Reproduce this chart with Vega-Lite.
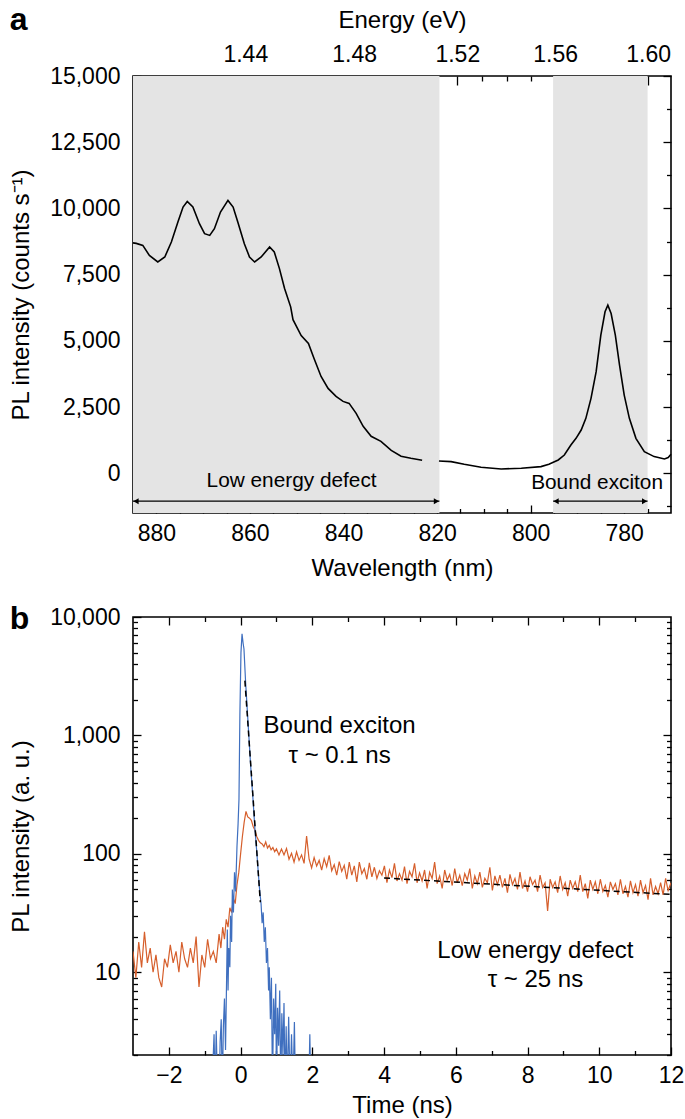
{
  "$schema": "https://vega.github.io/schema/vega-lite/v6.json",
  "background": "white",
  "padding": {"left": 8, "top": 3, "right": 2, "bottom": 4},
  "config": {
    "font": "Liberation Sans",
    "view": {"stroke": "black", "strokeWidth": 1.6},
    "axis": {"domain": false, "grid": false, "tickColor": "black", "tickWidth": 1.3, "labelColor": "black", "labelFontSize": 23, "labelFont": "Liberation Sans", "titleFont": "Liberation Sans", "titleFontSize": 24, "titleFontWeight": "normal", "titleColor": "black", "labelFlush": false, "labelOverlap": false},
    "text": {"font": "Liberation Sans", "color": "black"},
    "concat": {"spacing": 21}
  },
  "datasets": {
    "spectrum": [
      {"wl": 885, "I": 8700, "seg": 1}, {"wl": 884.3, "I": 8680, "seg": 1}, {"wl": 882.9, "I": 8605, "seg": 1}, {"wl": 881.5, "I": 8228, "seg": 1}, {"wl": 879.7, "I": 7979, "seg": 1}, {"wl": 878.2, "I": 8167, "seg": 1}, {"wl": 876.8, "I": 8733, "seg": 1}, {"wl": 875.4, "I": 9487, "seg": 1}, {"wl": 874.3, "I": 10052, "seg": 1}, {"wl": 873.4, "I": 10264, "seg": 1}, {"wl": 872.2, "I": 10052, "seg": 1}, {"wl": 870.8, "I": 9422, "seg": 1}, {"wl": 869.7, "I": 9046, "seg": 1}, {"wl": 868.6, "I": 8982, "seg": 1}, {"wl": 867.6, "I": 9234, "seg": 1}, {"wl": 866.3, "I": 9864, "seg": 1}, {"wl": 864.7, "I": 10302, "seg": 1}, {"wl": 863.6, "I": 10052, "seg": 1}, {"wl": 862.6, "I": 9487, "seg": 1}, {"wl": 861.2, "I": 8669, "seg": 1}, {"wl": 860.1, "I": 8167, "seg": 1}, {"wl": 859.0, "I": 7979, "seg": 1}, {"wl": 857.6, "I": 8167, "seg": 1}, {"wl": 855.8, "I": 8544, "seg": 1}, {"wl": 854.8, "I": 8356, "seg": 1}, {"wl": 853.7, "I": 7727, "seg": 1}, {"wl": 852.6, "I": 6974, "seg": 1}, {"wl": 851.3, "I": 6283, "seg": 1}, {"wl": 850.8, "I": 5800, "seg": 1}, {"wl": 849.05, "I": 5201, "seg": 1}, {"wl": 847.5, "I": 4900, "seg": 1}, {"wl": 846.3, "I": 4334, "seg": 1}, {"wl": 844.8, "I": 3656, "seg": 1}, {"wl": 843.3, "I": 3204, "seg": 1}, {"wl": 841.6, "I": 2902, "seg": 1}, {"wl": 840.1, "I": 2714, "seg": 1}, {"wl": 838.8, "I": 2638, "seg": 1}, {"wl": 837.3, "I": 2262, "seg": 1}, {"wl": 835.8, "I": 1772, "seg": 1}, {"wl": 834.1, "I": 1395, "seg": 1}, {"wl": 832.0, "I": 1206, "seg": 1}, {"wl": 829.8, "I": 867, "seg": 1}, {"wl": 827.7, "I": 641, "seg": 1}, {"wl": 825.6, "I": 565, "seg": 1}, {"wl": 823.2, "I": 490, "seg": 1},
      {"wl": 819.6, "I": 464, "seg": 2}, {"wl": 817.0, "I": 441, "seg": 2}, {"wl": 814.2, "I": 339, "seg": 2}, {"wl": 810.6, "I": 226, "seg": 2}, {"wl": 806.3, "I": 163, "seg": 2}, {"wl": 802.0, "I": 188, "seg": 2}, {"wl": 797.8, "I": 251, "seg": 2}, {"wl": 796.1, "I": 339, "seg": 2}, {"wl": 794.1, "I": 502, "seg": 2}, {"wl": 792.8, "I": 690, "seg": 2}, {"wl": 791.4, "I": 1067, "seg": 2}, {"wl": 790.3, "I": 1320, "seg": 2}, {"wl": 789.2, "I": 1633, "seg": 2}, {"wl": 788.2, "I": 2074, "seg": 2}, {"wl": 787.1, "I": 2828, "seg": 2}, {"wl": 786.0, "I": 3835, "seg": 2}, {"wl": 785.0, "I": 5215, "seg": 2}, {"wl": 784.1, "I": 6097, "seg": 2}, {"wl": 783.5, "I": 6348, "seg": 2}, {"wl": 782.8, "I": 6033, "seg": 2}, {"wl": 781.9, "I": 5215, "seg": 2}, {"wl": 781.0, "I": 4084, "seg": 2}, {"wl": 780.0, "I": 2953, "seg": 2}, {"wl": 778.9, "I": 2074, "seg": 2}, {"wl": 777.5, "I": 1320, "seg": 2}, {"wl": 775.7, "I": 818, "seg": 2}, {"wl": 773.6, "I": 629, "seg": 2}, {"wl": 771.4, "I": 540, "seg": 2}, {"wl": 770.6, "I": 591, "seg": 2}, {"wl": 770.0, "I": 716, "seg": 2}
    ],
    "bands": [{"from": 885, "to": 819.5}, {"from": 795.2, "to": 775.0}],
    "arrows": [{"name": "Low energy defect", "from": 885, "to": 819.5}, {"name": "Bound exciton", "from": 795.2, "to": 775.0}],
    "orange": [
      {"t": -3.0, "v": 15}, {"t": -2.92, "v": 9}, {"t": -2.84, "v": 18}, {"t": -2.76, "v": 11}, {"t": -2.68, "v": 22}, {"t": -2.6, "v": 12}, {"t": -2.52, "v": 16}, {"t": -2.44, "v": 10}, {"t": -2.36, "v": 14}, {"t": -2.28, "v": 9}, {"t": -2.2, "v": 7.5}, {"t": -2.12, "v": 13}, {"t": -2.04, "v": 11}, {"t": -1.96, "v": 17}, {"t": -1.88, "v": 12}, {"t": -1.8, "v": 15}, {"t": -1.72, "v": 10}, {"t": -1.64, "v": 18}, {"t": -1.56, "v": 13}, {"t": -1.48, "v": 11}, {"t": -1.4, "v": 16}, {"t": -1.32, "v": 12}, {"t": -1.24, "v": 20}, {"t": -1.16, "v": 7.5}, {"t": -1.08, "v": 14}, {"t": -1.0, "v": 11}, {"t": -0.92, "v": 19}, {"t": -0.84, "v": 13}, {"t": -0.76, "v": 15}, {"t": -0.68, "v": 12}, {"t": -0.6, "v": 21},
      {"t": -0.55, "v": 16}, {"t": -0.5, "v": 24}, {"t": -0.45, "v": 19}, {"t": -0.4, "v": 28}, {"t": -0.35, "v": 24}, {"t": -0.3, "v": 35}, {"t": -0.25, "v": 32}, {"t": -0.2, "v": 42}, {"t": -0.15, "v": 38}, {"t": -0.1, "v": 55}, {"t": -0.05, "v": 70}, {"t": 0.0, "v": 100}, {"t": 0.05, "v": 140}, {"t": 0.1, "v": 185}, {"t": 0.15, "v": 228}, {"t": 0.2, "v": 205}, {"t": 0.25, "v": 200}, {"t": 0.3, "v": 192}, {"t": 0.35, "v": 170}, {"t": 0.4, "v": 158}, {"t": 0.45, "v": 140}, {"t": 0.5, "v": 130}, {"t": 0.55, "v": 124}, {"t": 0.6, "v": 121}, {"t": 0.65, "v": 115}, {"t": 0.7, "v": 126}, {"t": 0.75, "v": 112}, {"t": 0.8, "v": 118}, {"t": 0.85, "v": 108}, {"t": 0.9, "v": 113}, {"t": 0.95, "v": 104}, {"t": 1.0, "v": 110},
      {"t": 1.07, "v": 98}, {"t": 1.14, "v": 110}, {"t": 1.21, "v": 98}, {"t": 1.28, "v": 111}, {"t": 1.35, "v": 90}, {"t": 1.42, "v": 101}, {"t": 1.49, "v": 85}, {"t": 1.56, "v": 104}, {"t": 1.63, "v": 88}, {"t": 1.7, "v": 98}, {"t": 1.77, "v": 83}, {"t": 1.84, "v": 141}, {"t": 1.91, "v": 90}, {"t": 1.98, "v": 76}, {"t": 2.05, "v": 93}, {"t": 2.12, "v": 79}, {"t": 2.19, "v": 88}, {"t": 2.26, "v": 73}, {"t": 2.33, "v": 91}, {"t": 2.4, "v": 78}, {"t": 2.47, "v": 97}, {"t": 2.54, "v": 72}, {"t": 2.61, "v": 81}, {"t": 2.68, "v": 66}, {"t": 2.75, "v": 86}, {"t": 2.82, "v": 71}, {"t": 2.89, "v": 80}, {"t": 2.96, "v": 61}, {"t": 3.03, "v": 85}, {"t": 3.1, "v": 66}, {"t": 3.17, "v": 79}, {"t": 3.24, "v": 58}, {"t": 3.31, "v": 85}, {"t": 3.38, "v": 68}, {"t": 3.45, "v": 75}, {"t": 3.52, "v": 61}, {"t": 3.59, "v": 84}, {"t": 3.66, "v": 64}, {"t": 3.73, "v": 77}, {"t": 3.8, "v": 62}, {"t": 3.87, "v": 72}, {"t": 3.94, "v": 66}, {"t": 4.01, "v": 79}, {"t": 4.08, "v": 57}, {"t": 4.15, "v": 73}, {"t": 4.22, "v": 63}, {"t": 4.29, "v": 83}, {"t": 4.36, "v": 59}, {"t": 4.43, "v": 68}, {"t": 4.5, "v": 60}, {"t": 4.57, "v": 78}, {"t": 4.64, "v": 56}, {"t": 4.71, "v": 71}, {"t": 4.78, "v": 64}, {"t": 4.85, "v": 83}, {"t": 4.92, "v": 57}, {"t": 4.99, "v": 69}, {"t": 5.06, "v": 59}, {"t": 5.13, "v": 73}, {"t": 5.2, "v": 51}, {"t": 5.27, "v": 70}, {"t": 5.34, "v": 62}, {"t": 5.41, "v": 85}, {"t": 5.48, "v": 56}, {"t": 5.55, "v": 65}, {"t": 5.62, "v": 51}, {"t": 5.69, "v": 73}, {"t": 5.76, "v": 60}, {"t": 5.83, "v": 67}, {"t": 5.9, "v": 54}, {"t": 5.97, "v": 75}, {"t": 6.04, "v": 57}, {"t": 6.11, "v": 66}, {"t": 6.18, "v": 54}, {"t": 6.25, "v": 68}, {"t": 6.32, "v": 60}, {"t": 6.39, "v": 75}, {"t": 6.46, "v": 51}, {"t": 6.53, "v": 65}, {"t": 6.6, "v": 56}, {"t": 6.67, "v": 70}, {"t": 6.74, "v": 52}, {"t": 6.81, "v": 62}, {"t": 6.88, "v": 57}, {"t": 6.95, "v": 77}, {"t": 7.02, "v": 49}, {"t": 7.09, "v": 65}, {"t": 7.16, "v": 55}, {"t": 7.23, "v": 66}, {"t": 7.3, "v": 52}, {"t": 7.37, "v": 62}, {"t": 7.44, "v": 47}, {"t": 7.51, "v": 67}, {"t": 7.58, "v": 55}, {"t": 7.65, "v": 62}, {"t": 7.72, "v": 50}, {"t": 7.79, "v": 70}, {"t": 7.86, "v": 51}, {"t": 7.93, "v": 59}, {"t": 8.0, "v": 48}, {"t": 8.07, "v": 64}, {"t": 8.14, "v": 55}, {"t": 8.21, "v": 60}, {"t": 8.28, "v": 48}, {"t": 8.35, "v": 66}, {"t": 8.42, "v": 52}, {"t": 8.49, "v": 57}, {"t": 8.56, "v": 33}, {"t": 8.63, "v": 61}, {"t": 8.7, "v": 52}, {"t": 8.77, "v": 58}, {"t": 8.84, "v": 47}, {"t": 8.91, "v": 65}, {"t": 8.98, "v": 50}, {"t": 9.05, "v": 57}, {"t": 9.12, "v": 44}, {"t": 9.19, "v": 60}, {"t": 9.26, "v": 51}, {"t": 9.33, "v": 58}, {"t": 9.4, "v": 48}, {"t": 9.47, "v": 66}, {"t": 9.54, "v": 48}, {"t": 9.61, "v": 56}, {"t": 9.68, "v": 42}, {"t": 9.75, "v": 60}, {"t": 9.82, "v": 50}, {"t": 9.89, "v": 58}, {"t": 9.96, "v": 46}, {"t": 10.03, "v": 61}, {"t": 10.1, "v": 48}, {"t": 10.17, "v": 54}, {"t": 10.24, "v": 43}, {"t": 10.31, "v": 58}, {"t": 10.38, "v": 50}, {"t": 10.45, "v": 56}, {"t": 10.52, "v": 45}, {"t": 10.59, "v": 61}, {"t": 10.66, "v": 46}, {"t": 10.73, "v": 53}, {"t": 10.8, "v": 43}, {"t": 10.87, "v": 59}, {"t": 10.94, "v": 47}, {"t": 11.01, "v": 55}, {"t": 11.08, "v": 44}, {"t": 11.15, "v": 60}, {"t": 11.22, "v": 47}, {"t": 11.29, "v": 54}, {"t": 11.36, "v": 41}, {"t": 11.43, "v": 62}, {"t": 11.5, "v": 45}, {"t": 11.57, "v": 53}, {"t": 11.64, "v": 46}, {"t": 11.71, "v": 57}, {"t": 11.78, "v": 45}, {"t": 11.85, "v": 62}, {"t": 11.92, "v": 49}, {"t": 12.0, "v": 57}
    ],
    "blue": [
      {"t": -0.8, "v": 1}, {"t": -0.74, "v": 3}, {"t": -0.71, "v": 1}, {"t": -0.68, "v": 3.2}, {"t": -0.64, "v": 1}, {"t": -0.6, "v": 1}, {"t": -0.57, "v": 2.6}, {"t": -0.54, "v": 4}, {"t": -0.51, "v": 1}, {"t": -0.48, "v": 3.5}, {"t": -0.45, "v": 6}, {"t": -0.42, "v": 2.2}, {"t": -0.39, "v": 9}, {"t": -0.37, "v": 23}, {"t": -0.35, "v": 7}, {"t": -0.33, "v": 16}, {"t": -0.3, "v": 11}, {"t": -0.28, "v": 30}, {"t": -0.25, "v": 18}, {"t": -0.23, "v": 50}, {"t": -0.2, "v": 32}, {"t": -0.17, "v": 70}, {"t": -0.14, "v": 48}, {"t": -0.1, "v": 117}, {"t": -0.07, "v": 180}, {"t": -0.045, "v": 290}, {"t": -0.02, "v": 1500}, {"t": 0.01, "v": 5000}, {"t": 0.04, "v": 7200}, {"t": 0.07, "v": 6000}, {"t": 0.094, "v": 5370}, {"t": 0.14, "v": 2800}, {"t": 0.2, "v": 1400}, {"t": 0.28, "v": 555}, {"t": 0.345, "v": 290}, {"t": 0.4, "v": 160}, {"t": 0.45, "v": 105}, {"t": 0.5, "v": 65}, {"t": 0.53, "v": 50}, {"t": 0.57, "v": 38}, {"t": 0.6, "v": 26}, {"t": 0.63, "v": 32}, {"t": 0.66, "v": 18}, {"t": 0.69, "v": 24}, {"t": 0.72, "v": 12}, {"t": 0.75, "v": 16}, {"t": 0.78, "v": 7}, {"t": 0.8, "v": 11}, {"t": 0.83, "v": 4}, {"t": 0.86, "v": 9}, {"t": 0.89, "v": 1}, {"t": 0.92, "v": 6}, {"t": 0.95, "v": 3}, {"t": 0.98, "v": 8}, {"t": 1.0, "v": 1}, {"t": 1.03, "v": 5}, {"t": 1.06, "v": 2.4}, {"t": 1.09, "v": 7}, {"t": 1.12, "v": 1}, {"t": 1.15, "v": 4.5}, {"t": 1.18, "v": 2}, {"t": 1.21, "v": 5.5}, {"t": 1.24, "v": 1}, {"t": 1.27, "v": 3.5}, {"t": 1.3, "v": 1}, {"t": 1.34, "v": 4.2}, {"t": 1.38, "v": 1}, {"t": 1.42, "v": 3}, {"t": 1.46, "v": 1}, {"t": 1.5, "v": 3.8}, {"t": 1.53, "v": 1}, {"t": 1.9, "v": 1}, {"t": 1.93, "v": 3}, {"t": 1.96, "v": 1}, {"t": 2.1, "v": 1}
    ],
    "fits": [{"t": 0.12, "v": 2900, "fit": "bound"}, {"t": 0.55, "v": 39, "fit": "bound"}, {"t": 4, "v": 62.5, "fit": "defect"}, {"t": 12, "v": 45.4, "fit": "defect"}],
    "notes_a": [{"label": "Low energy defect"}, {"label": "Bound exciton"}],
    "notes_b": [{"label": "Bound exciton\nτ ~ 0.1 ns"}, {"label": "Low energy defect\nτ ~ 25 ns"}]
  },
  "vconcat": [
    {
      "width": 538,
      "height": 437,
      "title": {"text": "a", "anchor": "start", "frame": "bounds", "fontSize": 32, "fontWeight": "bold", "font": "Liberation Sans", "color": "black", "offset": 0, "dy": 29},
      "layer": [
        {
          "data": {"name": "bands"},
          "mark": {"type": "rect", "color": "#e4e4e4"},
          "encoding": {
            "x": {"field": "from", "type": "quantitative", "scale": {"domain": [770, 885], "reverse": true, "nice": false, "zero": false}, "axis": null},
            "x2": {"field": "to"}
          }
        },
        {
          "data": {"name": "spectrum"},
          "mark": {"type": "line", "color": "black", "strokeWidth": 1.6},
          "encoding": {
            "x": {"field": "wl", "type": "quantitative", "scale": {"domain": [770, 885], "reverse": true, "nice": false, "zero": false},
              "axis": {"orient": "bottom", "values": [880, 860, 840, 820, 800, 780], "offset": -8, "tickSize": 8, "labelPadding": 9, "title": "Wavelength (nm)", "titlePadding": 11}},
            "y": {"field": "I", "type": "quantitative", "scale": {"domain": [-1500, 15000], "nice": false, "zero": false},
              "axis": {"orient": "left", "values": [0, 2500, 5000, 7500, 10000, 12500, 15000], "labelExpr": "format(datum.value, ',')", "offset": -8, "tickSize": 8, "labelPadding": 13, "title": "PL intensity (counts s⁻¹)", "titlePadding": 16}},
            "detail": {"field": "seg", "type": "nominal"}
          }
        },
        {
          "data": {"name": "arrows"},
          "mark": {"type": "rule", "color": "black", "strokeWidth": 1.2},
          "encoding": {
            "x": {"field": "from", "type": "quantitative", "scale": {"domain": [770, 885], "reverse": true, "nice": false, "zero": false},
              "axis": {"orient": "bottom", "values": [875, 870, 865, 855, 850, 845, 835, 830, 825, 815, 810, 805, 795, 790, 785, 775], "offset": -4.5, "tickSize": 4.5, "labels": false, "title": null}},
            "x2": {"field": "to"},
            "y": {"datum": -1055, "type": "quantitative", "scale": {"domain": [-1500, 15000], "nice": false, "zero": false},
              "axis": {"orient": "left", "values": [-1250, 1250, 3750, 6250, 8750, 11250, 13750], "offset": -4.5, "tickSize": 4.5, "labels": false, "title": null}}
          }
        },
        {
          "data": {"name": "arrows"},
          "mark": {"type": "point", "shape": "triangle-left", "filled": true, "color": "black", "size": 36, "opacity": 1, "xOffset": 3},
          "encoding": {
            "x": {"field": "from", "type": "quantitative", "scale": {"domain": [770, 885], "reverse": true, "nice": false, "zero": false},
              "axis": {"orient": "top", "values": [861.0, 837.73, 815.68, 794.77, 774.9], "labelExpr": "format(1239.84 / datum.value, '.2f')", "offset": -9, "tickSize": 9, "labelPadding": 10, "title": "Energy (eV)", "titlePadding": 11}},
            "y": {"datum": -1055, "type": "quantitative", "scale": {"domain": [-1500, 15000], "nice": false, "zero": false},
              "axis": {"orient": "right", "values": [0, 2500, 5000, 7500, 10000, 12500, 15000], "offset": -8, "tickSize": 8, "labels": false, "title": null}}
          }
        },
        {
          "data": {"name": "arrows"},
          "mark": {"type": "point", "shape": "triangle-right", "filled": true, "color": "black", "size": 36, "opacity": 1, "xOffset": -3},
          "encoding": {
            "x": {"field": "to", "type": "quantitative", "scale": {"domain": [770, 885], "reverse": true, "nice": false, "zero": false},
              "axis": {"orient": "top", "values": [879.32, 873.13, 867.02, 855.06, 849.21, 843.44, 832.11, 826.56, 821.09, 810.35, 805.09, 799.9, 789.71, 784.71, 779.77], "offset": -5, "tickSize": 5, "labels": false, "title": null}},
            "y": {"datum": -1055, "type": "quantitative", "scale": {"domain": [-1500, 15000], "nice": false, "zero": false},
              "axis": {"orient": "right", "values": [-1250, 1250, 3750, 6250, 8750, 11250, 13750], "offset": -4.5, "tickSize": 4.5, "labels": false, "title": null}}
          }
        },
        {
          "data": {"name": "notes_a"},
          "transform": [{"filter": "datum.label == 'Low energy defect'"}],
          "mark": {"type": "text", "fontSize": 20.8, "align": "center", "baseline": "middle"},
          "encoding": {
            "x": {"datum": 851.1, "type": "quantitative", "scale": {"domain": [770, 885], "reverse": true, "nice": false, "zero": false}, "axis": null},
            "y": {"datum": -301, "type": "quantitative", "scale": {"domain": [-1500, 15000], "nice": false, "zero": false}, "axis": null},
            "text": {"field": "label", "type": "nominal"}
          }
        },
        {
          "data": {"name": "notes_a"},
          "transform": [{"filter": "datum.label == 'Bound exciton'"}],
          "mark": {"type": "text", "fontSize": 20.8, "align": "center", "baseline": "middle"},
          "encoding": {
            "x": {"datum": 785.8, "type": "quantitative", "scale": {"domain": [770, 885], "reverse": true, "nice": false, "zero": false}, "axis": null},
            "y": {"datum": -377, "type": "quantitative", "scale": {"domain": [-1500, 15000], "nice": false, "zero": false}, "axis": null},
            "text": {"field": "label", "type": "nominal"}
          }
        }
      ],
      "resolve": {"axis": {"x": "independent", "y": "independent"}}
    },
    {
      "width": 538,
      "height": 438,
      "title": {"text": "b", "anchor": "start", "frame": "bounds", "fontSize": 32, "fontWeight": "bold", "font": "Liberation Sans", "color": "black", "offset": 0, "dy": 30},
      "layer": [
        {
          "data": {"name": "orange"},
          "mark": {"type": "line", "color": "#d65f2c", "strokeWidth": 1.2, "clip": true},
          "encoding": {
            "x": {"field": "t", "type": "quantitative", "scale": {"domain": [-3, 12], "nice": false, "zero": false},
              "axis": {"orient": "bottom", "values": [-2, 0, 2, 4, 6, 8, 10, 12], "format": "d", "offset": -8, "tickSize": 8, "labelPadding": 9, "title": "Time (ns)", "titlePadding": 6}},
            "y": {"field": "v", "type": "quantitative", "scale": {"type": "log", "domain": [2, 10000], "nice": false},
              "axis": {"orient": "left", "values": [10, 100, 1000, 10000], "labelExpr": "format(datum.value, ',')", "offset": -8, "tickSize": 8, "labelPadding": 13, "title": "PL intensity (a. u.)", "titlePadding": 16}}
          }
        },
        {
          "data": {"name": "blue"},
          "mark": {"type": "line", "color": "#3f6fbf", "strokeWidth": 1.2, "clip": true},
          "encoding": {
            "x": {"field": "t", "type": "quantitative", "scale": {"domain": [-3, 12], "nice": false, "zero": false},
              "axis": {"orient": "bottom", "values": [-1, 1, 3, 5, 7, 9, 11], "offset": -4.5, "tickSize": 4.5, "labels": false, "title": null}},
            "y": {"field": "v", "type": "quantitative", "scale": {"type": "log", "domain": [2, 10000], "nice": false},
              "axis": {"orient": "left", "values": [2, 3, 4, 5, 6, 7, 8, 9, 20, 30, 40, 50, 60, 70, 80, 90, 200, 300, 400, 500, 600, 700, 800, 900, 2000, 3000, 4000, 5000, 6000, 7000, 8000, 9000], "offset": -4.5, "tickSize": 4.5, "labels": false, "title": null}}
          }
        },
        {
          "data": {"name": "fits"},
          "mark": {"type": "line", "color": "black", "strokeWidth": 1.5, "strokeDash": [6, 4]},
          "encoding": {
            "x": {"field": "t", "type": "quantitative", "scale": {"domain": [-3, 12], "nice": false, "zero": false},
              "axis": {"orient": "top", "values": [-2, 0, 2, 4, 6, 8, 10], "offset": -8, "tickSize": 8, "labels": false, "title": null}},
            "y": {"field": "v", "type": "quantitative", "scale": {"type": "log", "domain": [2, 10000], "nice": false},
              "axis": {"orient": "right", "values": [10, 100, 1000], "offset": -8, "tickSize": 8, "labels": false, "title": null}},
            "detail": {"field": "fit", "type": "nominal"}
          }
        },
        {
          "data": {"name": "notes_b"},
          "transform": [{"filter": "indexof(datum.label, 'Bound') == 0"}],
          "mark": {"type": "text", "fontSize": 24, "align": "center", "baseline": "middle", "lineBreak": "\n", "lineHeight": 30},
          "encoding": {
            "x": {"datum": 2.76, "type": "quantitative", "scale": {"domain": [-3, 12], "nice": false, "zero": false},
              "axis": {"orient": "top", "values": [-1, 1, 3, 5, 7, 9, 11], "offset": -4.5, "tickSize": 4.5, "labels": false, "title": null}},
            "y": {"datum": 1200, "type": "quantitative", "scale": {"type": "log", "domain": [2, 10000], "nice": false},
              "axis": {"orient": "right", "values": [2, 3, 4, 5, 6, 7, 8, 9, 20, 30, 40, 50, 60, 70, 80, 90, 200, 300, 400, 500, 600, 700, 800, 900, 2000, 3000, 4000, 5000, 6000, 7000, 8000, 9000], "offset": -4.5, "tickSize": 4.5, "labels": false, "title": null}},
            "text": {"field": "label", "type": "nominal"}
          }
        },
        {
          "data": {"name": "notes_b"},
          "transform": [{"filter": "indexof(datum.label, 'Low') == 0"}],
          "mark": {"type": "text", "fontSize": 24, "align": "center", "baseline": "middle", "lineBreak": "\n", "lineHeight": 29},
          "encoding": {
            "x": {"datum": 8.22, "type": "quantitative", "scale": {"domain": [-3, 12], "nice": false, "zero": false}, "axis": null},
            "y": {"datum": 15.1, "type": "quantitative", "scale": {"type": "log", "domain": [2, 10000], "nice": false}, "axis": null},
            "text": {"field": "label", "type": "nominal"}
          }
        }
      ],
      "resolve": {"axis": {"x": "independent", "y": "independent"}}
    }
  ]
}
